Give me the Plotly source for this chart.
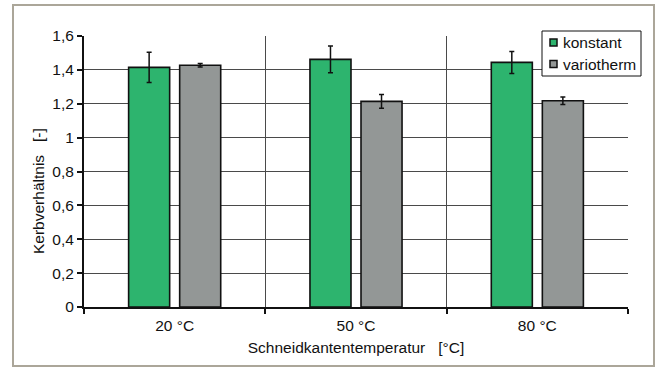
import plotly.graph_objects as go

categories = ["20 °C", "50 °C", "80 °C"]
konstant = [1.415, 1.462, 1.444]
konstant_err = [0.089, 0.079, 0.065]
variotherm = [1.427, 1.214, 1.218]
variotherm_err = [0.010, 0.040, 0.022]
y_ticks = [0, 0.2, 0.4, 0.6, 0.8, 1.0, 1.2, 1.4, 1.6]

series_names = ["konstant", "variotherm"]
series_colors = ["#2db46e", "#939796"]

FONT = "Liberation Sans"
FS = 15.5
INK = "#111111"

fig = go.Figure()
for name, vals, errs, col in zip(series_names, [konstant, variotherm],
                                 [konstant_err, variotherm_err], series_colors):
    fig.add_trace(go.Bar(
        name=name, x=categories, y=vals,
        marker=dict(color=col, line=dict(color=INK, width=1.6)),
        error_y=dict(type="data", array=errs, color=INK, thickness=1.5, width=2.5),
        showlegend=False,
    ))

L, R, T, B = 84, 28, 36, 60
W, H = 656, 367
pw, ph = W - L - R, H - T - B

def px(x):
    return (x - L) / pw

def py(y):
    return (H - B - y) / ph

fig.update_layout(
    width=W, height=H,
    margin=dict(l=L, r=R, t=T, b=B, pad=0, autoexpand=False),
    paper_bgcolor="white", plot_bgcolor="white",
    separators=",.",
    barmode="group", bargap=0.437, bargroupgap=0.196,
    font=dict(family=FONT, size=FS, color=INK),
    showlegend=False,
    xaxis=dict(
        type="category", range=[-0.5, 2.5],
        tickson="boundaries", ticks="outside", ticklen=5, tickwidth=1.5, tickcolor=INK,
        ticklabelstandoff=3,
        showgrid=True, gridcolor="#4a4a4a", gridwidth=1,
        showline=True, linecolor=INK, linewidth=2,
        tickfont=dict(size=FS),
        title=dict(text="Schneidkantentemperatur\u00a0\u00a0\u00a0[°C]", font=dict(size=FS), standoff=10),
    ),
    yaxis=dict(
        range=[0, 1.6], tickvals=y_ticks,
        ticktext=[("%g" % v).replace(".", ",") for v in y_ticks],
        ticks="outside", ticklen=5, tickwidth=1.5, tickcolor=INK,
        showgrid=True, gridcolor="#4a4a4a", gridwidth=1,
        showline=True, linecolor=INK, linewidth=2,
        zeroline=False, tickfont=dict(size=FS),
    ),
)

# y-axis title placed as a rotated annotation
fig.add_annotation(
    text="Kerbverhältnis\u00a0\u00a0\u00a0[-]", textangle=-90,
    xref="paper", yref="paper", x=px(38), y=py(191),
    xanchor="center", yanchor="middle", showarrow=False,
    font=dict(size=FS, family=FONT, color=INK),
)

# outer frame around the chart
fig.add_shape(
    type="rect", xref="paper", yref="paper",
    x0=px(13), x1=px(654), y0=py(366), y1=py(5),
    line=dict(color="#aba699", width=2), layer="below",
)

# legend box with colour swatches
fig.add_shape(
    type="rect", xref="paper", yref="paper",
    x0=px(542), x1=px(641), y0=py(76), y1=py(31),
    line=dict(color=INK, width=1), fillcolor="white", layer="above",
)
for i, (name, col) in enumerate(zip(series_names, series_colors)):
    cy = 42.5 + i * 21.5
    fig.add_shape(
        type="rect", xref="paper", yref="paper",
        x0=px(550), x1=px(557), y0=py(cy + 3.5), y1=py(cy - 3.5),
        line=dict(color=INK, width=1.5), fillcolor=col, layer="above",
    )
    fig.add_annotation(
        text=name, xref="paper", yref="paper", x=px(561), y=py(cy),
        xanchor="left", yanchor="middle", showarrow=False,
        font=dict(size=FS, family=FONT, color=INK),
    )

fig.write_html("out.html")
